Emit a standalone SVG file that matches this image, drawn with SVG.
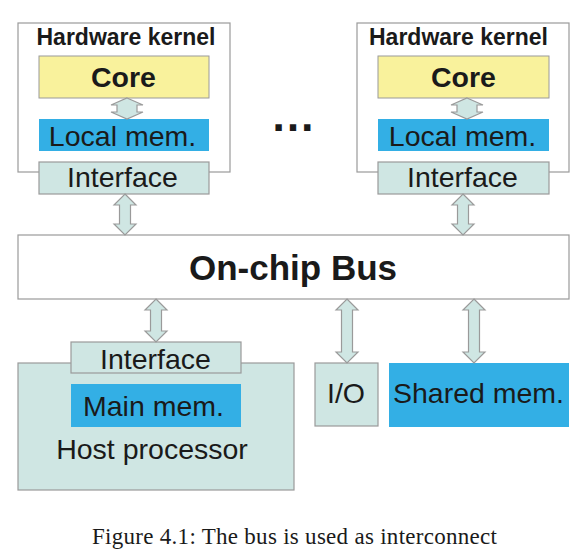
<svg xmlns="http://www.w3.org/2000/svg" width="586" height="550" viewBox="0 0 586 550">
<style>
.box{fill:#ffffff;stroke:#9a9a9a;stroke-width:1.2}
.core{fill:#f9f29c;stroke:#9a9a9a;stroke-width:1}
.mem{fill:#33afe5}
.ifc{fill:#cfe6e3;stroke:#9a9a9a;stroke-width:1.2}
.arr{fill:#cfe6e3;stroke:#9a9a9a;stroke-width:1.2;stroke-linejoin:miter}
text{font-family:"Liberation Sans",Arial,sans-serif;fill:#1a1a1a;text-anchor:middle}
.b{font-weight:bold}
.t{font-size:23px;font-weight:bold}
.c{font-size:28.5px;font-weight:bold}
.r{font-size:28.5px}
.cap{font-family:"Liberation Serif","Times New Roman",serif;font-size:23px;text-anchor:start}
</style>
<g id="kernel1">
<rect class="box" x="18" y="23" width="212" height="149"/>
<text class="t" x="126" y="45">Hardware kernel</text>
<rect class="core" x="39" y="56" width="170" height="42"/>
<text class="c" x="123.5" y="87">Core</text>
<rect class="mem" x="39" y="119" width="170" height="32"/>
<text class="r" x="122.5" y="146">Local mem.</text>
<rect class="ifc" x="39" y="162" width="170" height="32"/>
<text class="r" x="122.5" y="187">Interface</text>
</g>
<g id="kernel2">
<rect class="box" x="357" y="23" width="212" height="149"/>
<text class="t" x="458.5" y="45">Hardware kernel</text>
<rect class="core" x="378" y="56" width="171" height="42"/>
<text class="c" x="463.5" y="87">Core</text>
<rect class="mem" x="378" y="119" width="171" height="32"/>
<text class="r" x="462.5" y="146">Local mem.</text>
<rect class="ifc" x="378" y="162" width="171" height="32"/>
<text class="r" x="462.5" y="187">Interface</text>
</g>
<g id="ellipsis">
<text class="b" style="font-size:45px" x="293" y="131">…</text>
</g>
<g id="bus">
<rect class="box" x="18" y="235" width="551" height="64"/>
<text class="b" style="font-size:35px" x="293" y="280">On-chip Bus</text>
</g>
<g id="host">
<rect class="ifc" x="18" y="363" width="276" height="127"/>
<rect class="ifc" x="71" y="342" width="170" height="31"/>
<text class="r" x="155.5" y="369">Interface</text>
<rect class="mem" x="71" y="384" width="170" height="43"/>
<text class="r" x="153.5" y="416">Main mem.</text>
<text class="r" x="152" y="459">Host processor</text>
</g>
<g id="io">
<rect class="ifc" x="315" y="363" width="63" height="63"/>
<text class="r" x="346" y="403">I/O</text>
</g>
<g id="shared">
<rect class="mem" x="389" y="363" width="180" height="64"/>
<text class="r" x="478.5" y="403">Shared mem.</text>
</g>
<g id="connectors">
<path class="arr" d="M127,98 L143,105 L137,105 L137,112 L143,112 L127,119 L111,112 L117,112 L117,105 L111,105 Z"/>
<path class="arr" d="M467,98 L483,105 L477,105 L477,112 L483,112 L467,119 L451,112 L457,112 L457,105 L451,105 Z"/>
<path class="arr" d="M125,194 L136,205 L130.5,205 L130.5,224 L136,224 L125,235 L114,224 L119.5,224 L119.5,205 L114,205 Z"/>
<path class="arr" d="M463,194 L474,205 L468.5,205 L468.5,224 L474,224 L463,235 L452,224 L457.5,224 L457.5,205 L452,205 Z"/>
<path class="arr" d="M156,299 L167,310 L161.5,310 L161.5,331 L167,331 L156,342 L145,331 L150.5,331 L150.5,310 L145,310 Z"/>
<path class="arr" d="M347,299 L358,310 L352.5,310 L352.5,352 L358,352 L347,363 L336,352 L341.5,352 L341.5,310 L336,310 Z"/>
<path class="arr" d="M474,299 L485,310 L479.5,310 L479.5,352 L485,352 L474,363 L463,352 L468.5,352 L468.5,310 L463,310 Z"/>
</g>
<text class="cap" x="92" y="544" textLength="405" lengthAdjust="spacing">Figure 4.1: The bus is used as interconnect</text>
</svg>
